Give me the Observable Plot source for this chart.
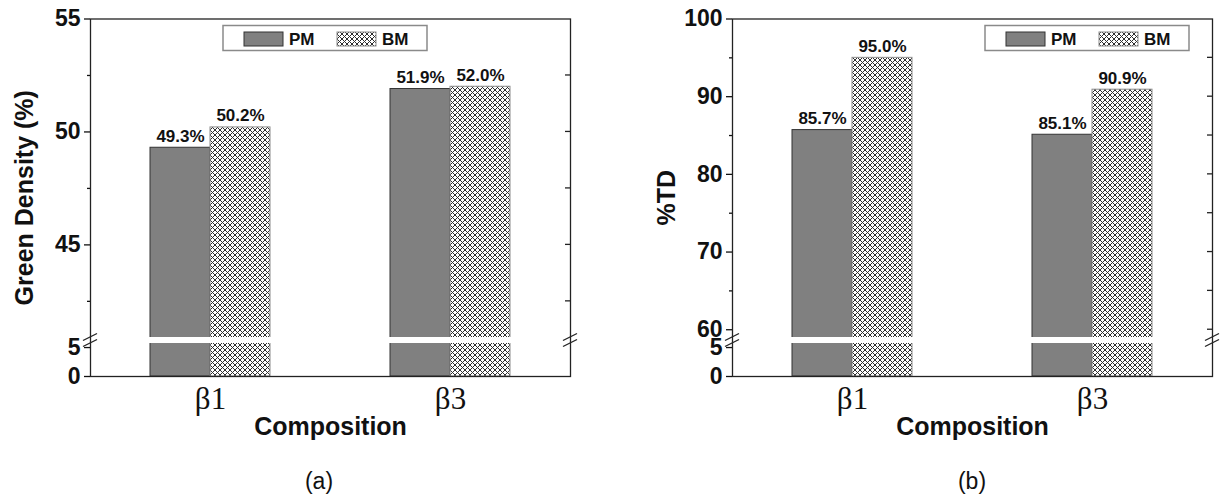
<!DOCTYPE html>
<html><head><meta charset="utf-8">
<script src="https://cdn.jsdelivr.net/npm/d3@7"></script>
<script src="https://cdn.jsdelivr.net/npm/@observablehq/plot@0.6"></script>
<style>
body{margin:0;background:#fff;}
#wrap{position:relative;width:1221px;height:498px;overflow:hidden;font-family:"Liberation Sans",Arial,sans-serif;background:#fff;}
.layer{position:absolute;top:0;}
.cap{position:absolute;font-size:23px;line-height:1;transform:translateX(-50%);color:#111;}
</style></head><body>
<svg width="0" height="0" style="position:absolute">
<defs><pattern id="hatch" patternUnits="userSpaceOnUse" width="5" height="5">
<rect width="5" height="5" fill="#fff"/>
<path d="M0,0L5,5M5,0L0,5M-1,4L1,6M4,-1L6,1M-1,1L1,-1M4,6L6,4" stroke="#2e2e2e" stroke-width="1"/>
</pattern></defs></svg>
<div id="wrap"></div>
<script>
// ---- data ----
const compositions = ["β1", "β3"];
const seriesNames = ["PM", "BM"];
const greenPM = [49.3, 51.9];
const greenBM = [50.2, 52.0];
const tdPM = [85.7, 85.1];
const tdBM = [95.0, 90.9];
const greenMajorTicks = [0, 5, 45, 50, 55];
const greenMinorTicks = [42.5, 47.5, 52.5];
const greenRightTicks = [42.5, 45, 47.5, 50, 52.5];
const tdMajorTicks = [0, 5, 60, 70, 80, 90, 100];
const tdMinorTicks = [65, 75, 85, 95];
const tdRightTicks = [60, 65, 70, 75, 80, 85, 90, 95];
const greenBreak = [5.7, 40.9];
const tdBreak = [5.7, 59.0];
const greenTop = 55, tdTop = 100;

// ---- layout ----
const H = 460;
const frameTop = 18.5, frameBottom = 376, gapTop = 337, gapBottom = 343;
const fmt = d3.format(".1f");

const panels = [
  {left: 0, width: 610, marginLeft: 90, marginRight: 40, pm: greenPM, bm: greenBM, brk: greenBreak, top: greenTop,
   major: greenMajorTicks, minor: greenMinorTicks, right: greenRightTicks, ylabel: "Green Density (%)",
   legendLeft: 222, caption: "(a)", capX: 319},
  {left: 610, width: 611, marginLeft: 122, marginRight: 9, pm: tdPM, bm: tdBM, brk: tdBreak, top: tdTop,
   major: tdMajorTicks, minor: tdMinorTicks, right: tdRightTicks, ylabel: "%TD",
   legendLeft: 984, caption: "(b)", capX: 972}
];

function decorations(cfg) {
  return (index, scales, values, dims) => {
    const g = d3.create("svg:g").attr("stroke", "#222").attr("stroke-width", 1.3).attr("fill", "none");
    const xl = dims.marginLeft, xr = dims.width - dims.marginRight;
    for (const v of cfg.right) {
      const yy = scales.y(v);
      g.append("line").attr("x1", xr - 5).attr("x2", xr).attr("y1", yy).attr("y2", yy);
    }
    for (const x of [xl, xr]) for (const v of cfg.brk) {
      const yy = scales.y(v);
      g.append("line").attr("x1", x - 7).attr("y1", yy + 3.5).attr("x2", x + 7).attr("y2", yy - 3.5);
    }
    return g.node();
  };
}

const wrap = document.getElementById("wrap");

for (const cfg of panels) {
  const rows = compositions.flatMap((c, i) => [
    {comp: c, series: "PM", value: cfg.pm[i]},
    {comp: c, series: "BM", value: cfg.bm[i]}
  ]);
  const yScale = {type: "linear", domain: [0, cfg.brk[0], cfg.brk[1], cfg.top],
                  range: [frameBottom, gapBottom, gapTop, frameTop]};
  const common = {width: cfg.width, height: H, marginLeft: cfg.marginLeft, marginRight: cfg.marginRight,
                  marginTop: frameTop, marginBottom: H - frameBottom};

  const base = Plot.plot({
    ...common,
    y: {...yScale, axis: null},
    x: {domain: seriesNames, paddingInner: 0, paddingOuter: 1, axis: null},
    fx: {domain: compositions, padding: 0, label: null, tickSize: 0, tickPadding: 10, axis: "bottom"},
    facet: {data: rows, x: "comp"},
    style: {fontFamily: "'Liberation Serif', 'Times New Roman', serif", fontSize: "31px", background: "transparent", color: "#111"},
    marks: [
      Plot.barY(rows, {filter: d => d.series === "PM", x: "series", y: "value", fill: "#808080", stroke: "#333", strokeWidth: 1}),
      Plot.barY(rows, {filter: d => d.series === "BM", x: "series", y: "value", fill: "url(#hatch)", stroke: "#8c8c8c", strokeWidth: 1}),
      Plot.text(rows, {x: "series", y: "value", text: d => fmt(d.value) + "%", lineAnchor: "bottom", dy: -6,
        fontFamily: "'Liberation Sans', Arial, sans-serif", fontSize: 17, fontWeight: "bold", fill: "#111"})
    ]
  });

  const over = Plot.plot({
    ...common,
    y: yScale,
    style: {fontFamily: "'Liberation Sans', Arial, sans-serif", background: "transparent", color: "#111"},
    marks: [
      Plot.rect([cfg.brk], {y1: d => d[0], y2: d => d[1], fill: "white"}),
      Plot.frame({stroke: "#222", strokeWidth: 1.3}),
      Plot.axisY({ticks: cfg.major, tickSize: 6, tickPadding: 4, fontSize: 23, fontWeight: "bold", label: null, strokeWidth: 1.3}),
      Plot.axisY({ticks: cfg.minor, tickSize: 3, tickFormat: () => "", label: null, strokeWidth: 1.3}),
      decorations(cfg),
      Plot.text(["Composition"], {text: d => d, frameAnchor: "bottom", dy: 58, fontSize: 25, fontWeight: "bold"}),
      Plot.text([cfg.ylabel], {text: d => d, frameAnchor: "left", textAnchor: "middle", rotate: -90, dx: -66, fontSize: 25, fontWeight: "bold"})
    ]
  });

  for (const svg of [base, over]) {
    const layer = document.createElement("div");
    layer.className = "layer";
    layer.style.left = cfg.left + "px";
    layer.style.width = cfg.width + "px";
    layer.appendChild(svg);
    wrap.appendChild(layer);
  }

  // legend
  const leg = d3.create("svg").attr("width", 208).attr("height", 30)
    .style("position", "absolute").style("left", cfg.legendLeft + "px").style("top", "24px");
  leg.append("rect").attr("x", 1).attr("y", 1.5).attr("width", 204).attr("height", 25)
    .attr("fill", "#fff").attr("stroke", "#8a8a8a").attr("stroke-width", 1.5);
  const swatches = [{name: "PM", fill: "#808080", stroke: "#333"}, {name: "BM", fill: "url(#hatch)", stroke: "#8c8c8c"}];
  swatches.forEach((s, i) => {
    const x0 = 22 + i * 93;
    leg.append("rect").attr("x", x0).attr("y", 8).attr("width", 39).attr("height", 14)
      .attr("fill", s.fill).attr("stroke", s.stroke).attr("stroke-width", 1);
    leg.append("text").attr("x", x0 + 45).attr("y", 21).text(s.name)
      .attr("font-family", "'Liberation Sans', Arial, sans-serif").attr("font-size", 17)
      .attr("font-weight", "bold").attr("fill", "#111");
  });
  wrap.appendChild(leg.node());

  const cap = document.createElement("div");
  cap.className = "cap";
  cap.style.left = cfg.capX + "px";
  cap.style.top = "470px";
  cap.textContent = cfg.caption;
  wrap.appendChild(cap);
}
</script>
</body></html>
